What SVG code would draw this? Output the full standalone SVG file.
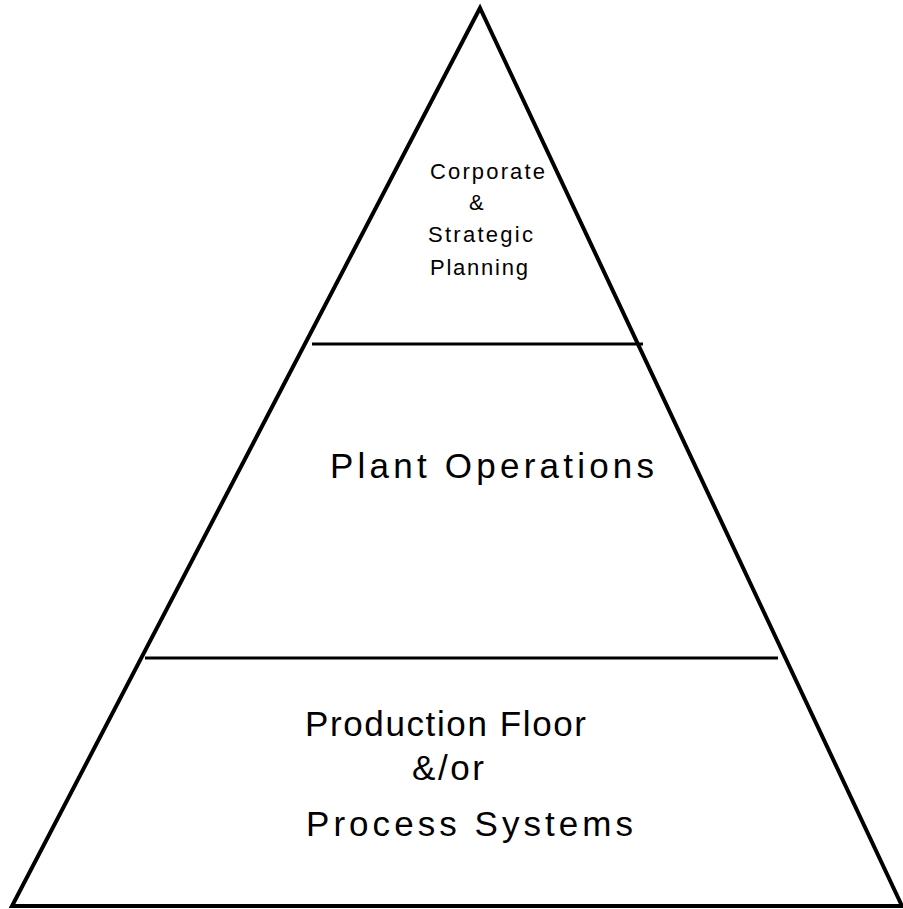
<svg xmlns="http://www.w3.org/2000/svg" width="903" height="909" viewBox="0 0 903 909">
  <style>
    .edge { fill: none; stroke: #000; stroke-width: 4; stroke-linejoin: miter; }
    .tier { stroke: #000; stroke-width: 3; }
    .lbl { font-family: "Liberation Sans", Arial, Helvetica, sans-serif; fill: #000; }
    .small { font-size: 22px; }
    .big { font-size: 35px; }
  </style>
  <rect width="903" height="909" fill="#fff"/>

  <!-- pyramid outline -->
  <g id="pyramid">
    <polygon class="edge" points="480,8 12,906 902,906"/>
  </g>

  <!-- tier dividers -->
  <g id="dividers">
    <line class="tier" x1="312" y1="344" x2="643" y2="344"/>
    <line class="tier" x1="145" y1="658" x2="778" y2="658"/>
  </g>

  <g id="corporate">
    <text class="lbl small" x="430" y="179" textLength="115" lengthAdjust="spacing">Corporate</text>
    <text class="lbl small" x="469" y="210">&amp;</text>
    <text class="lbl small" x="428" y="242" textLength="105" lengthAdjust="spacing">Strategic</text>
    <text class="lbl small" x="430" y="275" textLength="98" lengthAdjust="spacing">Planning</text>
  </g>

  <g id="plant">
    <text class="lbl big" x="330" y="478" textLength="324" lengthAdjust="spacing">Plant  Operations</text>
  </g>

  <g id="production">
    <text class="lbl big" x="305" y="736" textLength="281" lengthAdjust="spacing">Production  Floor</text>
    <text class="lbl big" x="412" y="780" textLength="72" lengthAdjust="spacing">&amp;/or</text>
    <text class="lbl big" x="306" y="836" textLength="327" lengthAdjust="spacing">Process  Systems</text>
  </g>
</svg>
